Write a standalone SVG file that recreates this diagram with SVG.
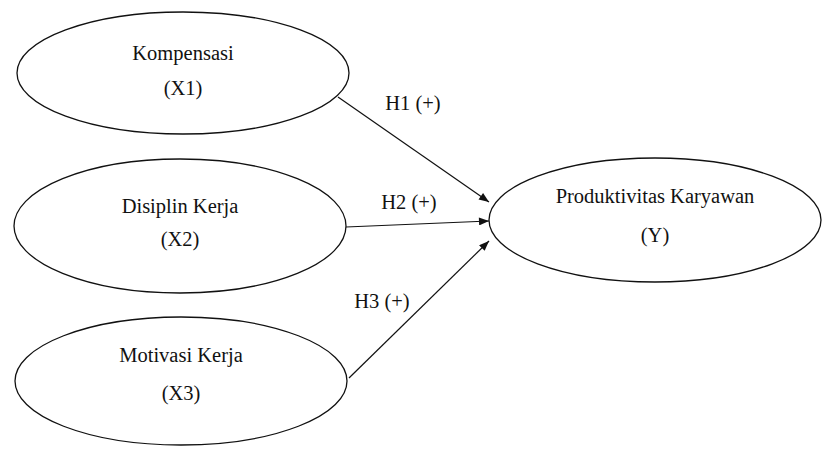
<svg xmlns="http://www.w3.org/2000/svg" width="827" height="462" viewBox="0 0 827 462">
<style>
.n{fill:#fff;stroke:#111;stroke-width:1.3}
.t{font-family:"Liberation Serif","Times New Roman",serif;font-size:20.5px;fill:#111;text-anchor:middle}
.c{stroke:#111;stroke-width:1.2;fill:none;marker-end:url(#ah)}
</style>
<defs>
<marker id="ah" viewBox="0 0 10 8" refX="10" refY="4" markerWidth="11" markerHeight="8" markerUnits="userSpaceOnUse" orient="auto">
<path d="M0,0 L10,4 L0,8 Z" fill="#111"/>
</marker>
</defs>
<rect width="827" height="462" fill="#fff"/>
<g id="x1">
<ellipse class="n" cx="183" cy="73" rx="166" ry="61"/>
<text class="t" x="183" y="60">Kompensasi</text>
<text class="t" x="183" y="95">(X1)</text>
</g>
<g id="x2">
<ellipse class="n" cx="180" cy="226" rx="166" ry="67"/>
<text class="t" x="180" y="213">Disiplin Kerja</text>
<text class="t" x="180" y="246">(X2)</text>
</g>
<g id="x3">
<ellipse class="n" cx="181" cy="381" rx="166" ry="64"/>
<text class="t" x="181" y="362">Motivasi Kerja</text>
<text class="t" x="181" y="400">(X3)</text>
</g>
<g id="y">
<ellipse class="n" cx="655" cy="220" rx="166" ry="62"/>
<text class="t" x="655" y="203">Produktivitas Karyawan</text>
<text class="t" x="655" y="242">(Y)</text>
</g>
<g id="connectors">
<line class="c" x1="338" y1="97" x2="489" y2="202"/>
<line class="c" x1="346" y1="227" x2="489" y2="221"/>
<line class="c" x1="349" y1="378" x2="489" y2="241"/>
<text class="t" x="413" y="110">H1 (+)</text>
<text class="t" x="409" y="209">H2 (+)</text>
<text class="t" x="382" y="308">H3 (+)</text>
</g>
</svg>
